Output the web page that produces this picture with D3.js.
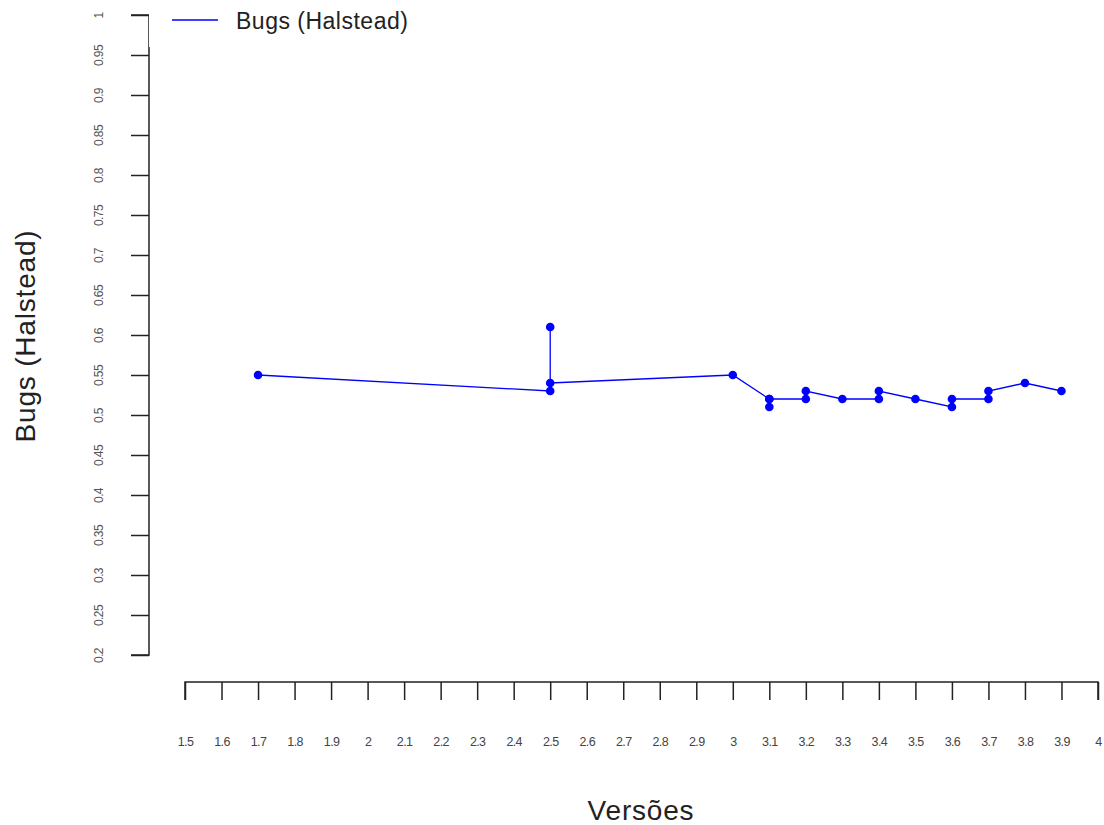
<!DOCTYPE html>
<html>
<head>
<meta charset="utf-8">
<script src="https://cdn.jsdelivr.net/npm/d3@7"></script>
<style>
  body { margin: 0; background: #fff; }
  text { font-family: "Liberation Sans", Arial, sans-serif; }
</style>
</head>
<body>
<div id="chart"></div>
<script>
// versions (x) and bug estimates (y), in plotting order
const versions = [1.7, 2.5, 2.5, 2.5, 3.0, 3.1, 3.1, 3.1, 3.2, 3.2, 3.3, 3.4, 3.4, 3.5, 3.6, 3.6, 3.7, 3.7, 3.8, 3.9];
const bugs     = [0.55, 0.53, 0.61, 0.54, 0.55, 0.52, 0.51, 0.52, 0.52, 0.53, 0.52, 0.52, 0.53, 0.52, 0.51, 0.52, 0.52, 0.53, 0.54, 0.53];
const xTicks = d3.range(15, 41).map(d => d / 10);
const yTicks = d3.range(4, 21).map(d => d / 20);
const seriesName = "Bugs (Halstead)";

const width = 1104, height = 825;
const data = versions.map((v, i) => ({ x: v, y: bugs[i] }));

const svg = d3.select("#chart").append("svg")
  .attr("width", width)
  .attr("height", height);

const x = d3.scaleLinear().domain([1.5, 4]).range([185, 1098]);
const y = d3.scaleLinear().domain([0.2, 1]).range([655, 15]);

// x axis, drawn below the plot like base R
const xAxis = svg.append("g")
  .attr("transform", "translate(0,682)")
  .call(d3.axisBottom(x).tickValues(xTicks).tickSize(18).tickFormat(d3.format("")));
xAxis.select(".domain").attr("stroke", "#222").attr("stroke-width", 1.5).attr("d", `M${x(1.5)},18V0H${x(4)}V18`);
xAxis.selectAll(".tick line").attr("stroke", "#222").attr("stroke-width", 1.5);
xAxis.selectAll(".tick text")
  .attr("y", 60)
  .attr("dy", "0.32em")
  .attr("font-size", 12.5)
  .attr("letter-spacing", "-0.6px")
  .attr("fill", "#444");

// y axis with rotated labels
const yAxis = svg.append("g")
  .attr("transform", "translate(149,0)")
  .call(d3.axisLeft(y).tickValues(yTicks).tickSize(18).tickFormat(d3.format("")));
yAxis.select(".domain").attr("stroke", "#222").attr("stroke-width", 1.5).attr("d", `M-18,${y(1)}H0V${y(0.2)}H-18`);
yAxis.selectAll(".tick line").attr("stroke", "#222").attr("stroke-width", 1.5);
yAxis.selectAll(".tick text")
  .attr("x", 0).attr("y", 0)
  .attr("dy", null)
  .attr("text-anchor", "middle")
  .attr("transform", "translate(-49,0) rotate(-90)")
  .attr("dominant-baseline", "middle")
  .attr("font-size", 12)
  .attr("letter-spacing", "-0.6px")
  .attr("fill", "#555");

// series
const line = d3.line().x(d => x(d.x)).y(d => y(d.y));
svg.append("path")
  .datum(data)
  .attr("fill", "none")
  .attr("stroke", "#0000ff")
  .attr("stroke-width", 1.3)
  .attr("d", line);

svg.append("g")
  .selectAll("circle")
  .data(data)
  .join("circle")
  .attr("cx", d => x(d.x))
  .attr("cy", d => y(d.y))
  .attr("r", 4.3)
  .attr("fill", "#0000ff");

// axis titles
svg.append("text")
  .attr("x", 641).attr("y", 820)
  .attr("text-anchor", "middle")
  .attr("font-size", 28)
  .attr("letter-spacing", "0.8px")
  .attr("fill", "#222")
  .text("Versões");

svg.append("text")
  .attr("transform", "translate(35,336) rotate(-90)")
  .attr("text-anchor", "middle")
  .attr("font-size", 28)
  .attr("letter-spacing", "0.8px")
  .attr("fill", "#222")
  .text("Bugs (Halstead)");

// legend box (white, hides top of the axis)
const legend = svg.append("g");
legend.append("rect")
  .attr("x", 149).attr("y", 0)
  .attr("width", 290).attr("height", 47)
  .attr("fill", "#fff");
legend.append("line")
  .attr("x1", 172).attr("x2", 218)
  .attr("y1", 20).attr("y2", 20)
  .attr("stroke", "#0000ff")
  .attr("stroke-width", 1.3);
legend.append("text")
  .attr("x", 236).attr("y", 29)
  .attr("font-size", 23)
  .attr("letter-spacing", "0.5px")
  .attr("fill", "#222")
  .text(seriesName);
</script>
</body>
</html>
